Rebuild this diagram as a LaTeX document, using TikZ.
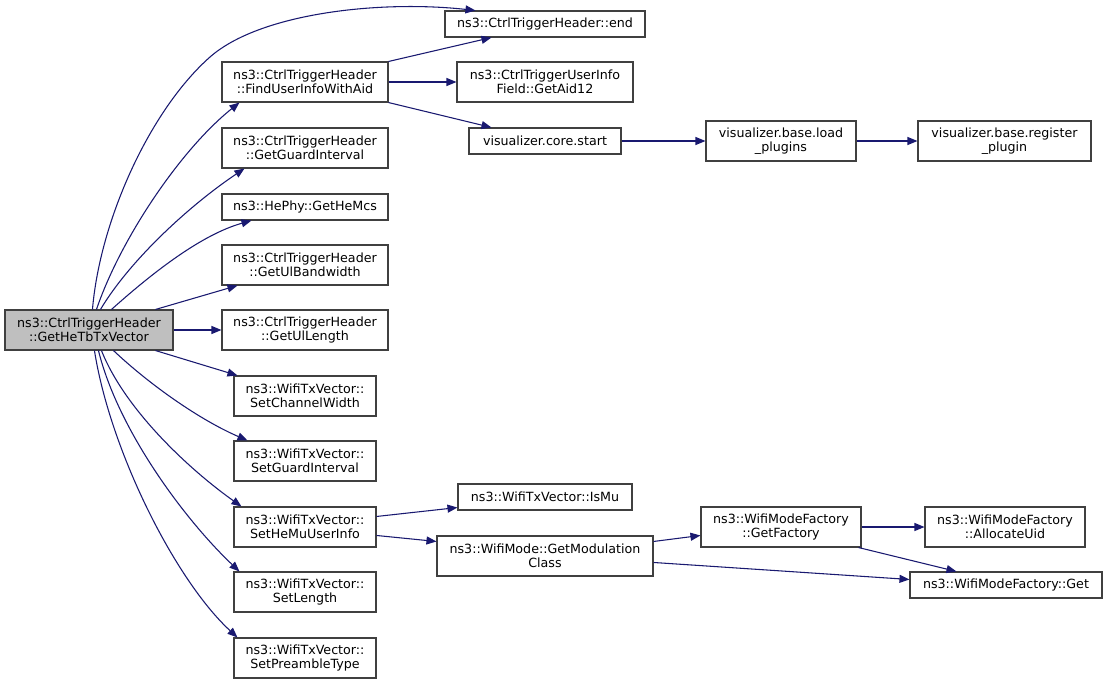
\documentclass[tikz,border=0pt]{standalone}
\usepackage{fontspec}
\setmainfont{DejaVu Sans}
\usetikzlibrary{arrows.meta,calc}
\definecolor{edgec}{HTML}{191970}
\definecolor{boxc}{HTML}{404040}
\tikzset{
  fn/.style={draw=boxc, line width=0.8pt, fill=white, inner sep=0pt, align=center,
    font=\fontsize{9.5pt}{10.8pt}\selectfont},
  callarrow/.style={draw=edgec, line width=0.8pt, -{Triangle[length=7.5pt,width=6pt]}}
}
\newcommand{\fnbox}[6]{% name, x1, x2, y1, y2, text
  \node[fn, minimum width={(#3-#2)*0.75pt}, minimum height={(#5-#4)*0.75pt}] (#1) at ({(#2+#3)/2},{(#4+#5)/2}) {#6};}
\begin{document}
\begin{tikzpicture}[x=0.75pt,y=-0.75pt]
\useasboundingbox (0,0) rectangle (1107,683);
\fill[white] (0,0) rectangle (1107,683);
\node[fn, fill={rgb,255:red,191;green,191;blue,191}, minimum width={168*0.75pt}, minimum height={40*0.75pt}] (main) at (89,330) {ns3::CtrlTriggerHeader\\::GetHeTbTxVector};
\fnbox{end}{445}{645}{11}{37}{ns3::CtrlTriggerHeader::end}
\fnbox{find}{222}{388}{62}{102}{ns3::CtrlTriggerHeader\\::FindUserInfoWithAid}
\fnbox{aid}{457}{633}{62}{102}{ns3::CtrlTriggerUserInfo\\Field::GetAid12}
\fnbox{start}{469}{621}{128}{154}{visualizer.core.start}
\fnbox{load}{706}{856}{121}{161}{visualizer.base.load\\\_plugins}
\fnbox{reg}{918}{1091}{121}{161}{visualizer.base.register\\\_plugin}
\fnbox{gi}{222}{388}{128}{168}{ns3::CtrlTriggerHeader\\::GetGuardInterval}
\fnbox{mcs}{222}{388}{194}{220}{ns3::HePhy::GetHeMcs}
\fnbox{ulbw}{222}{388}{245}{285}{ns3::CtrlTriggerHeader\\::GetUlBandwidth}
\fnbox{ullen}{222}{388}{310}{350}{ns3::CtrlTriggerHeader\\::GetUlLength}
\fnbox{scw}{234}{376}{376}{416}{ns3::WifiTxVector::\\SetChannelWidth}
\fnbox{sgi}{234}{376}{441}{481}{ns3::WifiTxVector::\\SetGuardInterval}
\fnbox{shemu}{234}{376}{507}{547}{ns3::WifiTxVector::\\SetHeMuUserInfo}
\fnbox{slen}{234}{376}{572}{612}{ns3::WifiTxVector::\\SetLength}
\fnbox{spre}{234}{376}{638}{678}{ns3::WifiTxVector::\\SetPreambleType}
\fnbox{ismu}{458}{632}{484}{510}{ns3::WifiTxVector::IsMu}
\fnbox{gmc}{437}{653}{536}{576}{ns3::WifiMode::GetModulation\\Class}
\fnbox{gf}{701}{861}{507}{547}{ns3::WifiModeFactory\\::GetFactory}
\fnbox{alloc}{925}{1085}{507}{547}{ns3::WifiModeFactory\\::AllocateUid}
\fnbox{get}{910}{1102}{572}{598}{ns3::WifiModeFactory::Get}
% edges from main
\draw[callarrow] ($(main.north west)+(88,0)$) .. controls (100,220) and (150,110) .. (210,57)
   .. controls (260,13) and (380,0) .. ($(end.north west)+(31,0)$);
\draw[callarrow] ($(main.north west)+(92,0)$) .. controls (120,240) and (180,150) .. ($(find.south west)+(18,0)$);
\draw[callarrow] ($(main.north west)+(96,0)$) .. controls (130,260) and (190,205) .. ($(gi.south west)+(23,0)$);
\draw[callarrow] ($(main.north west)+(107,0)$) .. controls (150,275) and (200,235) .. ($(mcs.south west)+(30,0)$);
\draw[callarrow] ($(main.north west)+(151,0)$) -- ($(ulbw.south west)+(16,0)$);
\draw[callarrow] (main.east) -- (ullen.west);
\draw[callarrow] ($(main.south west)+(151,0)$) -- ($(scw.north west)+(4,0)$);
\draw[callarrow] ($(main.south west)+(109,0)$) .. controls (150,385) and (200,420) .. ($(sgi.north west)+(14,0)$);
\draw[callarrow] ($(main.south west)+(97,0)$) .. controls (125,410) and (190,470) .. ($(shemu.north west)+(8,0)$);
\draw[callarrow] ($(main.south west)+(94,0)$) .. controls (118,430) and (185,520) .. ($(slen.north west)+(6,0)$);
\draw[callarrow] ($(main.south west)+(90,0)$) .. controls (110,450) and (175,580) .. ($(spre.north west)+(4,0)$);
% second level
\draw[callarrow] (find.north east) -- ($(end.south west)+(47,0)$);
\draw[callarrow] (find.east) -- (aid.west);
\draw[callarrow] (find.south east) -- ($(start.north west)+(23,0)$);
\draw[callarrow] (start.east) -- (load.west);
\draw[callarrow] (load.east) -- (reg.west);
\draw[callarrow] ($(shemu.north east)+(0,10)$) -- ($(ismu.south west)+(0,-3)$);
\draw[callarrow] ($(shemu.north east)+(0,29)$) -- ($(gmc.north west)+(0,6)$);
\draw[callarrow] ($(gmc.north east)+(0,6)$) -- ($(gf.north west)+(0,29)$);
\draw[callarrow] (gf.east) -- (alloc.west);
\draw[callarrow] ($(gf.south east)+(-3,0)$) -- ($(get.north west)+(47,0)$);
\draw[callarrow] ($(gmc.north east)+(0,27)$) -- ($(get.north west)+(0,8)$);
\end{tikzpicture}
\end{document}
